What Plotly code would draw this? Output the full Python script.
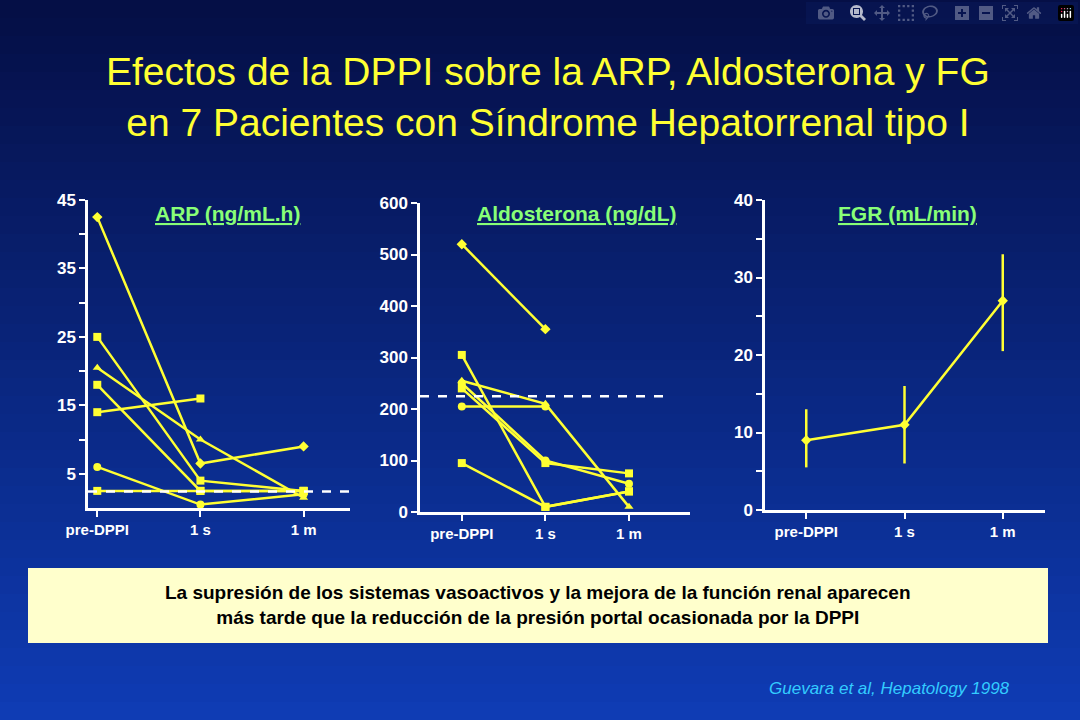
import plotly.graph_objects as go

x_pts = [0, 1, 2]
x_labels = ["pre-DPPI", "1 s", "1 m"]

arp_series = [
    [42.5, 6.5, 9.0],
    [25.0, 4.0, 2.5],
    [20.5, 10.0, 1.5],
    [18.0, 2.5, 2.5],
    [14.0, 16.0, None],
    [6.0, 0.5, 2.0],
    [2.5, 2.5, 2.5],
]
arp_symbols = ["diamond", "square", "triangle-up", "square", "square", "circle", "square"]
arp_normal = 2.4

aldo_series = [
    [520, 355, None],
    [305, 10, 40],
    [255, 210, 10],
    [250, 100, 55],
    [240, 95, 75],
    [205, 205, None],
    [95, 10, 40],
]
aldo_symbols = ["diamond", "square", "triangle-up", "circle", "square", "circle", "square"]
aldo_normal = 225

fgr_mean = [9, 11, 27]
fgr_hi = [13, 16, 33]
fgr_lo = [5.5, 6, 20.5]

YEL = "#FFFF33"
F = "Arial, Liberation Sans"
fig = go.Figure()

n = 40
for i in range(n):
    t = i / (n - 1)
    r = int(5 + 10 * t); g = int(15 + 45 * t); b = int(70 + 110 * t)
    fig.add_shape(type="rect", xref="paper", yref="paper", x0=0, x1=1,
                  y0=1 - (i + 1) / n, y1=1 - i / n, fillcolor=f"rgb({r},{g},{b})",
                  line_width=0, layer="below")

for s, sym in zip(arp_series, arp_symbols):
    fig.add_trace(go.Scatter(x=x_pts, y=s, mode="lines+markers", xaxis="x", yaxis="y",
                             line=dict(color=YEL, width=2.5), marker=dict(symbol=sym, size=8, color=YEL),
                             showlegend=False))
for s, sym in zip(aldo_series, aldo_symbols):
    fig.add_trace(go.Scatter(x=x_pts, y=s, mode="lines+markers", xaxis="x2", yaxis="y2",
                             line=dict(color=YEL, width=2.5), marker=dict(symbol=sym, size=8, color=YEL),
                             showlegend=False))
fig.add_trace(go.Scatter(x=x_pts, y=fgr_mean, mode="lines+markers", xaxis="x3", yaxis="y3",
                         line=dict(color=YEL, width=2.5), marker=dict(symbol="diamond", size=8, color=YEL),
                         error_y=dict(type="data", symmetric=False,
                                      array=[h - m for h, m in zip(fgr_hi, fgr_mean)],
                                      arrayminus=[m - l for m, l in zip(fgr_mean, fgr_lo)],
                                      color=YEL, thickness=2.5, width=0),
                         showlegend=False))

fig.add_shape(type="line", xref="x", yref="y", x0=-0.09, x1=2.45, y0=arp_normal, y1=arp_normal,
              line=dict(color="white", width=2.5, dash="dash"))
fig.add_shape(type="line", xref="x2", yref="y2", x0=-0.5, x1=2.5, y0=aldo_normal, y1=aldo_normal,
              line=dict(color="white", width=2.5, dash="dash"))

ax = dict(showgrid=False, zeroline=False, showline=True, linecolor="white", linewidth=2.5,
          ticks="outside", tickcolor="white", tickwidth=2, ticklen=6, automargin=False,
          tickfont=dict(family=F, size=15, color="white", weight="bold"),
          tickvals=x_pts, ticktext=x_labels)
ay = dict(showgrid=False, zeroline=False, showline=True, linecolor="white", linewidth=2.5,
          ticks="outside", tickcolor="white", tickwidth=2, ticklen=6, automargin=False,
          tickfont=dict(family=F, size=17, color="white", weight="bold"))

fig.update_layout(
    width=1080, height=720, margin=dict(l=0, r=0, t=0, b=0, pad=0), autosize=False,
    paper_bgcolor="#0a1a5a", plot_bgcolor="rgba(0,0,0,0)",
    xaxis=dict(ax, domain=[88/1080, 350/1080], range=[-0.09, 2.45], anchor="y"),
    yaxis=dict(ay, domain=[212/720, 520/720], range=[0, 45], anchor="x",
               tickvals=[5, 10, 15, 20, 25, 30, 35, 40, 45],
               ticktext=["5", "", "15", "", "25", "", "35", "", "45"]),
    xaxis2=dict(ax, domain=[420/1080, 690/1080], range=[-0.5, 2.73], anchor="y2"),
    yaxis2=dict(ay, domain=[208/720, 517/720], range=[0, 600], anchor="x2",
                tickvals=[0, 100, 200, 300, 400, 500, 600]),
    xaxis3=dict(ax, domain=[765/1080, 1045/1080], range=[-0.42, 2.43], anchor="y3"),
    yaxis3=dict(ay, domain=[210/720, 520/720], range=[0, 40], anchor="x3",
                tickvals=[0, 5, 10, 15, 20, 25, 30, 35, 40],
                ticktext=["0", "", "10", "", "20", "", "30", "", "40"]),
)

fig.add_annotation(xref="paper", yref="paper", x=548/1080, y=1 - 97/720, xanchor="center", yanchor="middle",
                   showarrow=False,
                   text="Efectos de la DPPI sobre la ARP, Aldosterona y FG<br>en 7 Pacientes con Síndrome Hepatorrenal tipo I",
                   font=dict(family=F, size=39, color=YEL), align="center")
for x, txt in [(227, "ARP (ng/mL.h)"), (576, "Aldosterona (ng/dL)"), (907, "FGR (mL/min)")]:
    fig.add_annotation(xref="paper", yref="paper", x=x/1080, y=1 - 213/720, xanchor="center", yanchor="middle",
                       showarrow=False, text=f"<b><u>{txt}</u></b>", font=dict(family=F, size=21, color="#88FF77"))
fig.add_shape(type="rect", xref="paper", yref="paper", x0=28/1080, x1=1048/1080,
              y0=1 - 643/720, y1=1 - 568/720, fillcolor="#FFFFCC", line_width=0)
fig.add_annotation(xref="paper", yref="paper", x=538/1080, y=1 - 605/720, xanchor="center", yanchor="middle",
                   showarrow=False,
                   text="<b>La supresión de los sistemas vasoactivos y la mejora de la función renal aparecen<br>más tarde que la reducción de la presión portal ocasionada por la DPPI</b>",
                   font=dict(family=F, size=19, color="black"), align="center")
fig.add_annotation(xref="paper", yref="paper", x=1012/1080, y=1 - 688/720, xanchor="right", yanchor="middle",
                   showarrow=False,
                   text="<i>Guevara et al, Hepatology 1998</i>", font=dict(family=F, size=17, color="#33CCFF"))

fig.write_html("out.html",
               post_script="document.body.style.margin='0';document.body.style.overflow='hidden';")
